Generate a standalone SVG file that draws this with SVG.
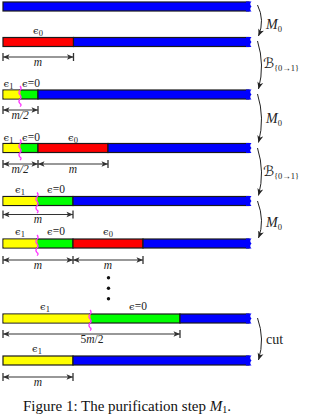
<svg xmlns="http://www.w3.org/2000/svg" width="310" height="417" viewBox="0 0 310 417">
<style>
.bar{stroke:#1a1a1a;stroke-width:1.2}
.y{fill:#ffff00}.g{fill:#00ff00}.r{fill:#ff0000}.b{fill:#0000ff}
.cap{fill:#0000ff}
.wig{fill:none;stroke:#ff33ff;stroke-width:1.2}
.dim{stroke:#333;stroke-width:1.1;fill:none}
.tick{stroke:#333;stroke-width:1.3}
.lab{font-family:"Liberation Serif","DejaVu Serif",serif;font-size:11.5px;fill:#222;text-anchor:middle}
.eps{font-family:"DejaVu Serif","Liberation Serif",serif;font-size:10px}
.it{font-style:italic}
.conn{fill:none;stroke:#222;stroke-width:1}
.cl{font-family:"Liberation Serif","DejaVu Serif",serif;font-size:14px;fill:#222}
.sub{font-size:8.5px}
.scr{font-family:"DejaVu Sans","DejaVu Serif",serif;font-size:14px}
.cap-t{font-family:"Liberation Serif","Times New Roman",serif;font-size:15px;fill:#111;text-anchor:middle}
</style>
<defs>
<marker id="ah" viewBox="-7 -3.5 8 7" markerWidth="8" markerHeight="7" refX="0" refY="0" orient="auto" markerUnits="userSpaceOnUse">
<path d="M0,0 L-7,-3 L-5,0 L-7,3 Z" fill="#222"/>
</marker>
<marker id="dh" viewBox="-7 -3.5 8 7" markerWidth="8" markerHeight="7" refX="0" refY="0" orient="auto-start-reverse" markerUnits="userSpaceOnUse">
<path d="M0,0 L-6.5,-2.8 L-5,0 L-6.5,2.8 Z" fill="#333"/>
</marker>
<path id="endcap" d="M246,-0.6 H251.5 Q249,2 251.5,4.5 Q249,7 251.5,9.6 H246 Z" class="cap"/>
<path id="wiggle" d="M0,-4 q2.2,2.2 0,4.4 q-2.2,2.2 0,4.4 q2.2,2.2 0,4.4 q-2.2,2.2 0,4.4 q2.2,1.2 0,3" class="wig"/>
</defs>

<g id="row1" transform="translate(0,2)">
<rect class="bar b" x="3" y="0" width="246" height="9"/>
<use href="#endcap"/>
</g>

<g id="row2" transform="translate(0,37.5)">
<rect class="bar r" x="3" y="0" width="70.5" height="9"/>
<rect class="bar b" x="73.5" y="0" width="175.5" height="9"/>
<use href="#endcap"/>
<text class="lab" x="38" y="-4"><tspan class="eps">ϵ</tspan><tspan class="sub" dy="2">0</tspan></text>
<line class="dim" x1="3" y1="19.5" x2="73.5" y2="19.5" marker-start="url(#dh)" marker-end="url(#dh)"/>
<line class="tick" x1="3" y1="15.5" x2="3" y2="23.5"/><line class="tick" x1="73.5" y1="15.5" x2="73.5" y2="23.5"/>
<text class="lab it" x="38" y="28">m</text>
</g>

<g id="row3" transform="translate(0,90)">
<rect class="bar y" x="3" y="0" width="17" height="9"/>
<rect class="bar g" x="20" y="0" width="18" height="9"/>
<rect class="bar b" x="38" y="0" width="211" height="9"/>
<rect class="y" x="3.6" y="0.6" width="17" height="7.8"/>
<use href="#endcap"/>
<use href="#wiggle" x="20"/>
<text class="lab" x="8.5" y="-3"><tspan class="eps">ϵ</tspan><tspan class="sub" dy="2">1</tspan></text>
<text class="lab" x="31" y="-3"><tspan class="eps">ϵ</tspan>=0</text>
<line class="dim" x1="3" y1="20" x2="38" y2="20" marker-start="url(#dh)" marker-end="url(#dh)"/>
<line class="tick" x1="3" y1="16" x2="3" y2="24"/><line class="tick" x1="38" y1="16" x2="38" y2="24"/>
<text class="lab it" x="20" y="29">m/2</text>
</g>

<g id="row4" transform="translate(0,143.5)">
<rect class="bar y" x="3" y="0" width="17" height="9"/>
<rect class="bar g" x="20" y="0" width="18" height="9"/>
<rect class="bar r" x="38" y="0" width="70" height="9"/>
<rect class="bar b" x="108" y="0" width="141" height="9"/>
<rect class="y" x="3.6" y="0.6" width="17" height="7.8"/>
<use href="#endcap"/>
<use href="#wiggle" x="20"/>
<text class="lab" x="8.5" y="-3"><tspan class="eps">ϵ</tspan><tspan class="sub" dy="2">1</tspan></text>
<text class="lab" x="31" y="-3"><tspan class="eps">ϵ</tspan>=0</text>
<text class="lab" x="73" y="-3"><tspan class="eps">ϵ</tspan><tspan class="sub" dy="2">0</tspan></text>
<line class="dim" x1="3" y1="20.5" x2="38" y2="20.5" marker-start="url(#dh)" marker-end="url(#dh)"/>
<line class="dim" x1="38" y1="20.5" x2="108" y2="20.5" marker-start="url(#dh)" marker-end="url(#dh)"/>
<line class="tick" x1="3" y1="16.5" x2="3" y2="24.5"/><line class="tick" x1="38" y1="16.5" x2="38" y2="24.5"/><line class="tick" x1="108" y1="16.5" x2="108" y2="24.5"/>
<text class="lab it" x="20" y="29.5">m/2</text>
<text class="lab it" x="73" y="29">m</text>
</g>

<g id="row5" transform="translate(0,196.5)">
<rect class="bar y" x="3" y="0" width="34" height="9"/>
<rect class="bar g" x="37" y="0" width="36" height="9"/>
<rect class="bar b" x="73" y="0" width="176" height="9"/>
<rect class="y" x="3.6" y="0.6" width="34" height="7.8"/>
<use href="#endcap"/>
<use href="#wiggle" x="37"/>
<text class="lab" x="20" y="-4"><tspan class="eps">ϵ</tspan><tspan class="sub" dy="2">1</tspan></text>
<text class="lab" x="56" y="-4"><tspan class="eps">ϵ</tspan>=0</text>
<line class="dim" x1="3" y1="18" x2="73" y2="18" marker-start="url(#dh)" marker-end="url(#dh)"/>
<line class="tick" x1="3" y1="14" x2="3" y2="22"/><line class="tick" x1="73" y1="14" x2="73" y2="22"/>
<text class="lab it" x="38" y="26.5">m</text>
</g>

<g id="row6" transform="translate(0,239)">
<rect class="bar y" x="3" y="0" width="34" height="9"/>
<rect class="bar g" x="37" y="0" width="36" height="9"/>
<rect class="bar r" x="73" y="0" width="70" height="9"/>
<rect class="bar b" x="143" y="0" width="106" height="9"/>
<rect class="y" x="3.6" y="0.6" width="34" height="7.8"/>
<use href="#endcap"/>
<use href="#wiggle" x="37"/>
<text class="lab" x="20" y="-4"><tspan class="eps">ϵ</tspan><tspan class="sub" dy="2">1</tspan></text>
<text class="lab" x="56" y="-4"><tspan class="eps">ϵ</tspan>=0</text>
<text class="lab" x="108" y="-4"><tspan class="eps">ϵ</tspan><tspan class="sub" dy="2">0</tspan></text>
<line class="dim" x1="3" y1="21" x2="73" y2="21" marker-start="url(#dh)" marker-end="url(#dh)"/>
<line class="dim" x1="73" y1="21" x2="143" y2="21" marker-start="url(#dh)" marker-end="url(#dh)"/>
<line class="tick" x1="3" y1="17" x2="3" y2="25"/><line class="tick" x1="73" y1="17" x2="73" y2="25"/><line class="tick" x1="143" y1="17" x2="143" y2="25"/>
<text class="lab it" x="38" y="29.5">m</text>
<text class="lab it" x="108" y="29.5">m</text>
</g>

<g id="dots" fill="#111">
<circle cx="108.5" cy="277.7" r="1.7"/>
<circle cx="108.5" cy="288.3" r="1.7"/>
<circle cx="108.5" cy="298.7" r="1.7"/>
</g>

<g id="row7" transform="translate(0,314)">
<rect class="bar y" x="3" y="0" width="87" height="9"/>
<rect class="bar g" x="90" y="0" width="90" height="9"/>
<rect class="bar b" x="180" y="0" width="69" height="9"/>
<rect class="y" x="3.6" y="0.6" width="87" height="7.8"/>
<use href="#endcap"/>
<use href="#wiggle" x="90"/>
<text class="lab" x="45" y="-4"><tspan class="eps">ϵ</tspan><tspan class="sub" dy="2">1</tspan></text>
<text class="lab" x="138" y="-4"><tspan class="eps">ϵ</tspan>=0</text>
<line class="dim" x1="3" y1="20" x2="180" y2="20" marker-start="url(#dh)" marker-end="url(#dh)"/>
<line class="tick" x1="3" y1="16" x2="3" y2="24"/><line class="tick" x1="180" y1="16" x2="180" y2="24"/>
<text class="lab" x="92" y="29">5<tspan font-style="italic">m</tspan>/2</text>
</g>

<g id="row8" transform="translate(0,356)">
<rect class="bar y" x="3" y="0" width="70" height="9"/>
<rect class="bar b" x="73" y="0" width="176" height="9"/>
<use href="#endcap"/>
<text class="lab" x="37" y="-4"><tspan class="eps">ϵ</tspan><tspan class="sub" dy="2">1</tspan></text>
<line class="dim" x1="3" y1="21" x2="73" y2="21" marker-start="url(#dh)" marker-end="url(#dh)"/>
<line class="tick" x1="3" y1="17" x2="3" y2="25"/><line class="tick" x1="73" y1="17" x2="73" y2="25"/>
<text class="lab it" x="38" y="29.5">m</text>
</g>

<g id="connectors">
<path class="conn" d="M257.5,5 Q265,20 258.5,36" marker-end="url(#ah)"/>
<path class="conn" d="M257.5,41 Q265,65 258.5,89" marker-end="url(#ah)"/>
<path class="conn" d="M257.5,94 Q265,118 258.5,142.5" marker-end="url(#ah)"/>
<path class="conn" d="M257.5,148 Q265,172 258.5,195.5" marker-end="url(#ah)"/>
<path class="conn" d="M257.5,201 Q265,221 258.5,238" marker-end="url(#ah)"/>
<path class="conn" d="M257.5,318 Q265,339 258.5,360" marker-end="url(#ah)"/>
<text class="cl it" x="266" y="29">M<tspan class="sub" dy="2.5" font-style="normal">0</tspan></text>
<text class="cl" x="263" y="68"><tspan class="scr">ℬ</tspan><tspan class="sub" dy="3">{0→1}</tspan></text>
<text class="cl it" x="266" y="123">M<tspan class="sub" dy="2.5" font-style="normal">0</tspan></text>
<text class="cl" x="263" y="176"><tspan class="scr">ℬ</tspan><tspan class="sub" dy="3">{0→1}</tspan></text>
<text class="cl it" x="266" y="227">M<tspan class="sub" dy="2.5" font-style="normal">0</tspan></text>
<text class="cl" x="266" y="344">cut</text>
</g>

<text class="cap-t" x="127" y="411">Figure 1: The purification step <tspan font-style="italic">M</tspan><tspan font-size="10" dy="2">1</tspan><tspan dy="-2">.</tspan></text>
</svg>
